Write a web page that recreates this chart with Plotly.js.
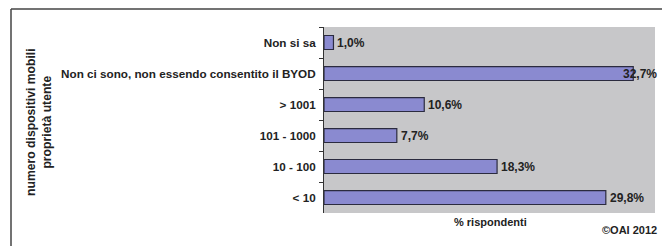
<!DOCTYPE html>
<html><head><meta charset="utf-8">
<script src="https://cdn.plot.ly/plotly-3.0.1.min.js"></script>
<style>html,body{margin:0;padding:0;background:#fff;}#chart{width:662px;height:246px;}</style>
</head><body><div id="chart"></div>
<script>
const categories = ["Non si sa", "Non ci sono, non essendo consentito il BYOD", "> 1001", "101 - 1000", "10 - 100", "< 10"];
const values = [1.0, 32.7, 10.6, 7.7, 18.3, 29.8];
const valueLabels = ["1,0%", "32,7%", "10,6%", "7,7%", "18,3%", "29,8%"];
const yTitle = "numero dispositivi mobili<br>proprietà utente";
const xTitle = "% rispondenti";
const credit = "©OAI 2012";

const font = {family: "Liberation Sans, Arial, sans-serif", size: 11, color: "#222", weight: "bold"};
const tickFont = Object.assign({}, font, {size: 11.7});
const valFont = Object.assign({}, font, {size: 12});
const titleFont = Object.assign({}, font, {size: 12.2});
const L = 324, R = 655, T = 27, B = 213, W = 662, H = 246;
const XMAX = 35;
const px = x => (x - L) / (R - L);
const py = y => (B - y) / (B - T);

// value labels: placed just right of each bar; if it would run past the page edge, keep it inside the page
const labelWidth = 39;
const valueAnns = values.map((v, i) => {
  const endPx = L + v / XMAX * (R - L);
  const shift = Math.min(3, (W - 1) - labelWidth - endPx);
  return {text: valueLabels[i], x: v, y: categories[i], xref: "x", yref: "y", xanchor: "left", yanchor: "middle",
          xshift: shift, showarrow: false, font: valFont, borderpad: 0};
});

Plotly.newPlot("chart", [{
  type: "bar", orientation: "h",
  y: categories, x: values,
  marker: {color: "#8a8ad0", line: {color: "#2b2b3f", width: 1.2}},
  width: 0.45,
  hoverinfo: "none"
}], {
  width: W, height: H,
  margin: {l: L, r: W - R, t: T, b: H - B, pad: 0},
  paper_bgcolor: "#fff", plot_bgcolor: "#c7c7c9",
  showlegend: false,
  font: font,
  xaxis: {range: [0, XMAX], showticklabels: false, showgrid: false, zeroline: false, ticks: "", showline: false, fixedrange: true},
  yaxis: {autorange: "reversed", showgrid: false, zeroline: false, showline: true, linecolor: "#333", linewidth: 1,
          ticks: "outside", tickson: "boundaries", ticklen: 4, tickcolor: "#333", tickfont: tickFont, ticklabelstandoff: 5,
          automargin: false, fixedrange: true},
  shapes: [
    {type: "line", xref: "paper", yref: "paper", x0: px(11), x1: px(662), y0: py(9), y1: py(9), line: {color: "#444", width: 1.5}},
    {type: "line", xref: "paper", yref: "paper", x0: px(11), x1: px(11), y0: py(9), y1: py(246), line: {color: "#444", width: 1.5}}
  ],
  annotations: valueAnns.concat([
    {text: yTitle, xref: "paper", yref: "paper", x: px(39), y: py(122), textangle: -90, showarrow: false, font: titleFont, xanchor: "center", yanchor: "middle"},
    {text: xTitle, xref: "paper", yref: "paper", x: px(490), y: py(222), showarrow: false, font: font, xanchor: "center", yanchor: "middle"},
    {text: credit, xref: "paper", yref: "paper", x: px(659), y: py(230), showarrow: false, font: font, xanchor: "right", yanchor: "middle"}
  ])
}, {displayModeBar: false, staticPlot: true});
</script></body></html>
